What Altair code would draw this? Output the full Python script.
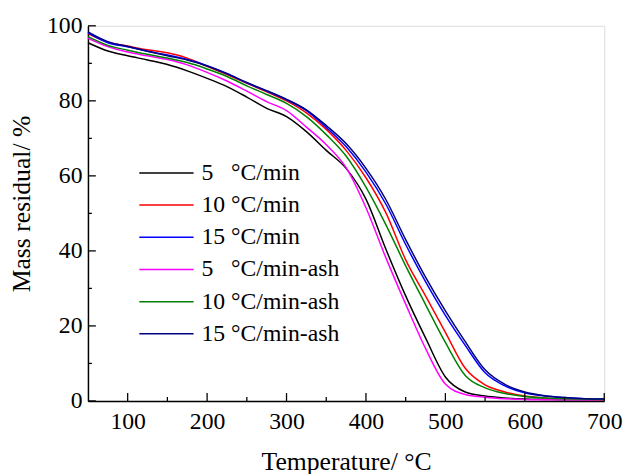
import altair as alt
import pandas as pd

# ---------------- data ----------------
temps = [50, 75, 100, 125, 150, 175, 200, 225, 250, 275, 300, 325, 350, 375,
         400, 425, 450, 475, 500, 525, 550, 575, 600, 625, 650, 675, 700]

s5 = [95.5, 93.3, 92.0, 90.9, 89.7, 88.0, 86.0, 83.8, 81.0, 78.0, 75.8, 71.8, 66.8, 62.0,
      53.8, 40.5, 28.0, 16.8, 6.4, 2.4, 1.3, 0.8, 0.5, 0.4, 0.3, 0.3, 0.3]
s10 = [97.9, 95.6, 94.6, 93.6, 92.8, 91.4, 89.2, 87.0, 84.7, 82.4, 80.0, 76.8, 72.4, 66.8,
       59.5, 50.2, 37.6, 28.0, 18.3, 8.7, 4.3, 2.4, 1.3, 0.8, 0.5, 0.4, 0.3]
s15 = [98.1, 95.5, 94.4, 93.2, 92.2, 91.0, 89.4, 87.3, 84.8, 82.6, 80.3, 77.4, 72.9, 67.8,
       61.0, 52.5, 41.7, 31.8, 22.8, 14.8, 7.5, 4.0, 2.2, 1.3, 0.9, 0.6, 0.5]
s5a = [96.7, 94.5, 93.0, 92.0, 91.0, 89.6, 87.6, 85.3, 82.6, 79.8, 77.4, 73.0, 68.3, 62.2,
       51.5, 38.2, 25.8, 14.0, 4.5, 1.7, 1.0, 0.6, 0.4, 0.3, 0.3, 0.3, 0.3]
s10a = [97.1, 94.8, 93.5, 92.4, 91.4, 90.2, 88.5, 86.5, 84.0, 81.7, 79.3, 75.8, 71.0, 65.3,
        57.0, 47.0, 36.0, 25.7, 15.6, 6.8, 3.5, 2.0, 1.2, 0.8, 0.6, 0.5, 0.4]
s15a = [98.4, 95.8, 94.5, 93.2, 92.0, 90.9, 89.3, 87.2, 84.9, 82.7, 80.4, 77.6, 73.4, 68.6,
        62.0, 53.7, 43.0, 33.0, 24.0, 15.8, 8.3, 4.4, 2.4, 1.4, 0.9, 0.6, 0.5]

series_names = ["5\u00a0\u00a0\u00a0°C/min", "10\u00a0°C/min", "15\u00a0°C/min",
                "5\u00a0\u00a0\u00a0°C/min-ash", "10\u00a0°C/min-ash", "15\u00a0°C/min-ash"]
series_values = [s5, s10, s15, s5a, s10a, s15a]
series_colors = ["#000000", "#FF0000", "#0000FF", "#FF00FF", "#008000", "#000080"]

x_major_ticks = [100, 200, 300, 400, 500, 600, 700]
x_minor_ticks = [150, 250, 350, 450, 550, 650]
y_major_ticks = [0, 20, 40, 60, 80, 100]
y_minor_ticks = [10, 30, 50, 70, 90]

# ---------------- build table ----------------
rows = []
for name, vals in zip(series_names, series_values):
    for t, v in zip(temps, vals):
        rows.append({"series": name, "T": t, "V": v})
df = pd.DataFrame(rows)

W, H = 523, 380
FONT = "Liberation Serif"

xscale = alt.Scale(domain=[50, 700], nice=False, zero=False)
yscale = alt.Scale(domain=[0, 100], nice=False, zero=False)

x_axis = alt.Axis(values=x_major_ticks, title="Temperature/ °C", ticks=False,
                  grid=False, labelPadding=9, labelFontSize=24, labelFont=FONT,
                  labelColor="black", domainColor="black", domainWidth=1.5,
                  titleFont=FONT, titleFontSize=26, titleFontWeight="normal",
                  titleColor="black", titleX=W / 2, titleY=69,
                  titleBaseline="alphabetic", labelFlush=False)
y_axis = alt.Axis(values=y_major_ticks, title="Mass residual/ %", ticks=False,
                  grid=False, labelPadding=6, labelFontSize=24, labelFont=FONT,
                  labelColor="black", domainColor="black", domainWidth=1.5,
                  titleFont=FONT, titleFontSize=26, titleFontWeight="normal",
                  titleColor="black", titleX=-59, titleY=180, titleAngle=270,
                  titleBaseline="alphabetic", labelFlush=False)

lines = alt.Chart(df).mark_line(strokeWidth=1.5, interpolate="monotone").encode(
    x=alt.X("T:Q", scale=xscale, axis=x_axis),
    y=alt.Y("V:Q", scale=yscale, axis=y_axis),
    color=alt.Color("series:N",
                    scale=alt.Scale(domain=series_names, range=series_colors),
                    sort=series_names,
                    legend=alt.Legend(title=None, orient="none", legendX=51, legendY=137,
                                      symbolType="stroke", symbolSize=3025,
                                      symbolStrokeWidth=1.5, labelFont=FONT,
                                      labelFontSize=24, labelColor="black",
                                      labelOffset=7, rowPadding=8.6, padding=0,
                                      clipHeight=24, labelLimit=400)),
)

def xticks(vals, length):
    return alt.Chart(pd.DataFrame({"T": vals})).mark_rule(
        color="black", strokeWidth=1.3).encode(
        x=alt.X("T:Q", scale=xscale, axis=x_axis),
        y=alt.value(H), y2=alt.value(H - length))

def yticks(vals, length):
    return alt.Chart(pd.DataFrame({"V": vals})).mark_rule(
        color="black", strokeWidth=1.3).encode(
        y=alt.Y("V:Q", scale=yscale, axis=y_axis),
        x=alt.value(0), x2=alt.value(length))

chart = alt.layer(
    lines,
    xticks(x_major_ticks, 8), xticks(x_minor_ticks, 4),
    yticks(y_major_ticks, 8), yticks(y_minor_ticks, 4),
).properties(
    width=W, height=H,
    padding={"left": 81, "top": 15, "right": 19, "bottom": 75},
    autosize=alt.AutoSizeParams(type="none"),
).configure_view(stroke=None).configure(background="white")

chart.save("out.html", embed_options={"renderer": "svg", "actions": False})
